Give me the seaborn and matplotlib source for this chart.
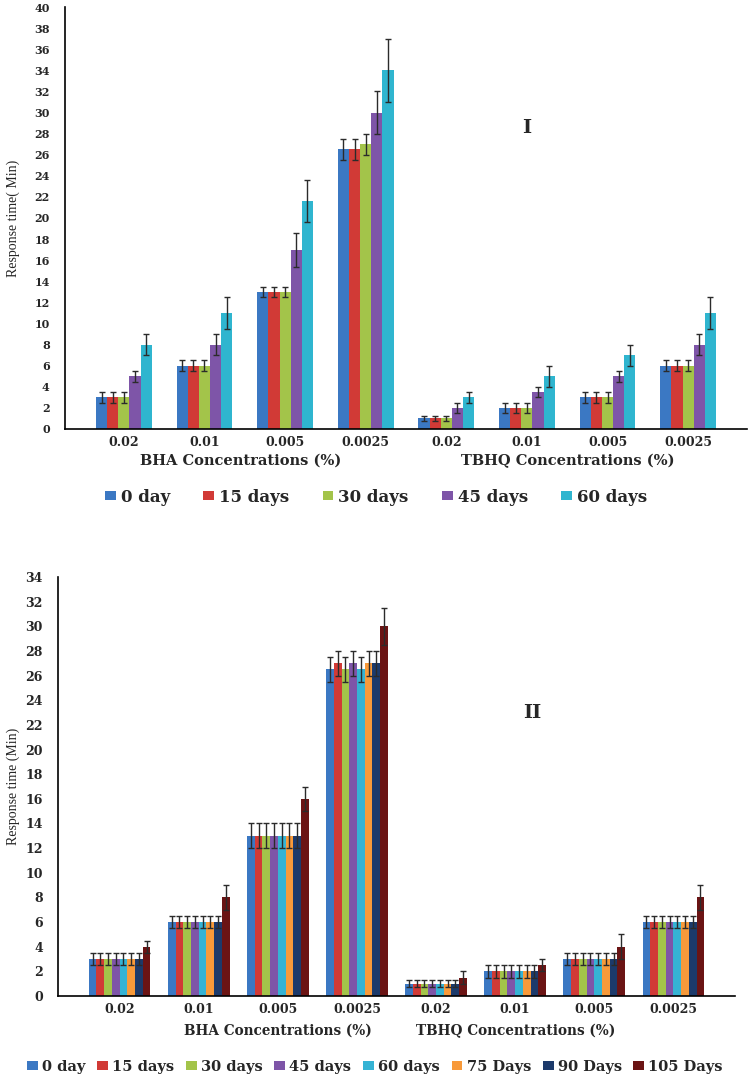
import matplotlib
matplotlib.use("Agg")
import pandas as pd
import seaborn as sns
from matplotlib import pyplot as plt

# categories (unique keys) and what is printed under each group
groups = ["BHA 0.02", "BHA 0.01", "BHA 0.005", "BHA 0.0025",
          "TBHQ 0.02", "TBHQ 0.01", "TBHQ 0.005", "TBHQ 0.0025"]
tick_labels = ["0.02", "0.01", "0.005", "0.0025", "0.02", "0.01", "0.005", "0.0025"]

# chart I
days_1 = ["0 day", "15 days", "30 days", "45 days", "60 days"]
means_1 = [
    [3, 6, 13, 26.5, 1, 2, 3, 6],
    [3, 6, 13, 26.5, 1, 2, 3, 6],
    [3, 6, 13, 27, 1, 2, 3, 6],
    [5, 8, 17, 30, 2, 3.5, 5, 8],
    [8, 11, 21.6, 34, 3, 5, 7, 11],
]
errs_1 = [
    [0.5, 0.5, 0.5, 1, 0.2, 0.5, 0.5, 0.5],
    [0.5, 0.5, 0.5, 1, 0.2, 0.5, 0.5, 0.5],
    [0.5, 0.5, 0.5, 1, 0.2, 0.5, 0.5, 0.5],
    [0.5, 1, 1.6, 2, 0.5, 0.5, 0.5, 1],
    [1, 1.5, 2, 3, 0.5, 1, 1, 1.5],
]
colors_1 = ["#3b78c3", "#d13a36", "#a3c44a", "#7e55a8", "#2fb5cf"]

# chart II
days_2 = ["0 day", "15 days", "30 days", "45 days", "60 days", "75 Days", "90 Days", "105 Days"]
means_2 = [
    [3, 6, 13, 26.5, 1, 2, 3, 6],
    [3, 6, 13, 27, 1, 2, 3, 6],
    [3, 6, 13, 26.5, 1, 2, 3, 6],
    [3, 6, 13, 27, 1, 2, 3, 6],
    [3, 6, 13, 26.5, 1, 2, 3, 6],
    [3, 6, 13, 27, 1, 2, 3, 6],
    [3, 6, 13, 27, 1, 2, 3, 6],
    [4, 8, 16, 30, 1.5, 2.5, 4, 8],
]
errs_2 = [
    [0.5, 0.5, 1, 1, 0.3, 0.5, 0.5, 0.5],
    [0.5, 0.5, 1, 1, 0.3, 0.5, 0.5, 0.5],
    [0.5, 0.5, 1, 1, 0.3, 0.5, 0.5, 0.5],
    [0.5, 0.5, 1, 1, 0.3, 0.5, 0.5, 0.5],
    [0.5, 0.5, 1, 1, 0.3, 0.5, 0.5, 0.5],
    [0.5, 0.5, 1, 1, 0.3, 0.5, 0.5, 0.5],
    [0.5, 0.5, 1, 1, 0.3, 0.5, 0.5, 0.5],
    [0.5, 1, 1, 1.5, 0.5, 0.5, 1, 1],
]
colors_2 = ["#3b78c3", "#d13a36", "#a3c44a", "#7e55a8", "#35b3d4", "#f89a3a", "#1c3a6b", "#6b1414"]


def to_frame(days, means):
    rows = []
    for day, vals in zip(days, means):
        for g, v in zip(groups, vals):
            rows.append({"Group": g, "Day": day, "Time": v})
    return pd.DataFrame(rows)


sns.set_style("white")
plt.rcParams["font.family"] = ["DejaVu Serif"]
plt.rcParams["font.weight"] = "bold"

fig = plt.figure(figsize=(7.49, 10.8), dpi=100)
W, H = 749, 1080


def panel(rect, days, means, errs, colors, ymax, width, tick_fs, ylabel, roman, roman_xy,
          leg_xy, leg_fs, leg_kw, cat_xy, cat_fs, label_x):
    ax = fig.add_axes([rect[0] / W, 1 - rect[3] / H, (rect[2] - rect[0]) / W, (rect[3] - rect[1]) / H])
    df = to_frame(days, means)
    sns.barplot(data=df, x="Group", y="Time", hue="Day", order=groups, hue_order=days,
                palette=colors, saturation=1, width=width, gap=0, linewidth=0,
                errorbar=None, ax=ax)
    bars = list(ax.containers)
    for cont, err in zip(bars, errs):
        xs = [p.get_x() + p.get_width() / 2 for p in cont]
        hs = [p.get_height() for p in cont]
        ax.errorbar(xs, hs, yerr=err, fmt="none", ecolor="#2b2b2b", elinewidth=1.0,
                    capsize=2.4, capthick=1.0)
    ax.set_ylim(0, ymax)
    ax.set_yticks(range(0, ymax + 1, 2))
    ax.set_xticks(range(len(groups)))
    ax.set_xticklabels(tick_labels, fontsize=9, fontweight="bold")
    ax.tick_params(axis="y", length=0, pad=11, labelsize=tick_fs)
    ax.tick_params(axis="x", length=0, pad=5)
    for lab in ax.get_yticklabels():
        lab.set_fontweight("bold")
    ax.set_xlabel("")
    ax.set_ylabel(ylabel, family="Liberation Serif", fontweight="normal", fontsize=10)
    ax.yaxis.set_label_coords(label_x, 0.5)
    for side in ["top", "right"]:
        ax.spines[side].set_visible(False)
    for side in ["left", "bottom"]:
        ax.spines[side].set_color("black")
        ax.spines[side].set_linewidth(1.2)
    ax.text(roman_xy[0], roman_xy[1], roman, transform=fig.transFigure, ha="center", va="center",
            fontsize=14, fontweight="bold")
    for (cx, cy), txt in zip(cat_xy, ["BHA Concentrations (%)", "TBHQ Concentrations (%)"]):
        fig.text(cx, cy, txt, ha="center", va="center", fontsize=cat_fs, fontweight="bold")
    leg = ax.get_legend()
    handles = leg.legend_handles
    labels = [t.get_text() for t in leg.get_texts()]
    leg.remove()
    fig.legend(handles, labels, loc="center", bbox_to_anchor=leg_xy, ncol=len(days),
               frameon=False, prop={"size": leg_fs, "weight": "bold"}, **leg_kw)
    return ax


panel((65, 7, 747, 429), days_1, means_1, errs_1, colors_1, 40, 0.69, 8,
      "Response time( Min)", "I", (527 / W, 1 - 128 / H),
      (376 / W, 1 - 497 / H), 12,
      dict(handlelength=0.65, handleheight=0.5, handletextpad=0.3, columnspacing=2.0),
      [(241 / W, 1 - 461 / H), (568 / W, 1 - 461 / H)], 10.5, -0.066)

panel((58, 577, 735, 996), days_2, means_2, errs_2, colors_2, 34, 0.78, 9,
      "Response time (Min)", "II", (532 / W, 1 - 713 / H),
      (375 / W, 1 - 1067 / H), 10.5,
      dict(handlelength=0.75, handleheight=0.55, handletextpad=0.28, columnspacing=0.8),
      [(278 / W, 1 - 1031 / H), (516 / W, 1 - 1031 / H)], 9.8, -0.056)

fig.savefig("out.png", dpi=100)
